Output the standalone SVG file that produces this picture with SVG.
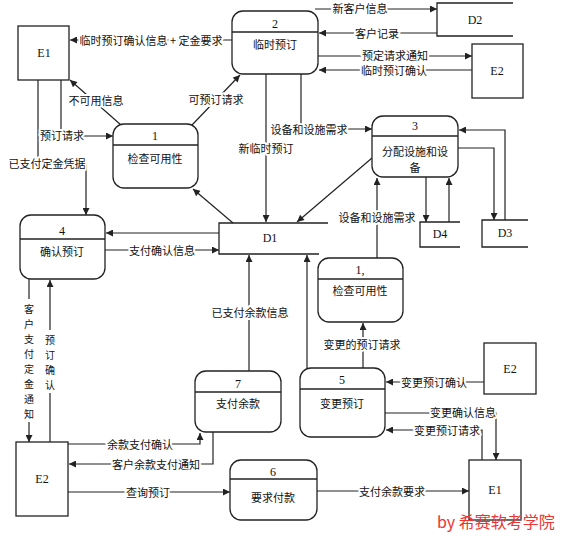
<svg xmlns="http://www.w3.org/2000/svg" width="580" height="536" viewBox="0 0 580 536">
<style>
  .box{fill:#fff;stroke:#222;stroke-width:1.3}
  .ln{fill:none;stroke:#222;stroke-width:1.2}
  .st{fill:none;stroke:#222;stroke-width:1.3}
  .t{font-family:"Noto Sans CJK SC","Noto Sans",sans-serif;font-size:11px;fill:#111;text-anchor:middle;dominant-baseline:central}
  .lb{font-family:"Noto Sans CJK SC","Noto Sans",sans-serif;font-size:11px;fill:#111;text-anchor:middle;dominant-baseline:central;paint-order:stroke;stroke:#fff;stroke-width:4px;stroke-linejoin:round}
  .vt{font-family:"Noto Sans CJK SC","Noto Sans",sans-serif;font-size:10px;fill:#111;text-anchor:middle;dominant-baseline:central}
  .id{font-family:"Liberation Serif",serif;font-size:12px;fill:#111;text-anchor:middle;dominant-baseline:central}
  .wm{font-family:"Noto Sans CJK SC","Noto Sans",sans-serif;font-size:16px;fill:#e33;dominant-baseline:central}
</style>
<defs>
  <marker id="a" viewBox="0 0 10 10" refX="10" refY="5" markerWidth="8" markerHeight="7" markerUnits="userSpaceOnUse" orient="auto">
    <path d="M0,0 L10,5 L0,10 z" fill="#222"/>
  </marker>
</defs>
<rect width="580" height="536" fill="#fff"/>

<g id="connectors">
  <path class="ln" d="M232,40 H70" marker-end="url(#a)"/>
  <path class="ln" d="M315,9 H437" marker-end="url(#a)"/>
  <path class="ln" d="M437,33 H319" marker-end="url(#a)"/>
  <path class="ln" d="M318,56 H472" marker-end="url(#a)"/>
  <path class="ln" d="M472,70 H319" marker-end="url(#a)"/>
  <path class="ln" d="M121,125 L70,80" marker-end="url(#a)"/>
  <path class="ln" d="M192,125 L240,75" marker-end="url(#a)"/>
  <path class="ln" d="M61,80 V136 H113" marker-end="url(#a)"/>
  <path class="ln" d="M38,80 V163 H86 V215" marker-end="url(#a)"/>
  <path class="ln" d="M233,223 L193,189" marker-end="url(#a)"/>
  <path class="ln" d="M266,74 V222" marker-end="url(#a)"/>
  <path class="ln" d="M301,74 V129 H372" marker-end="url(#a)"/>
  <path class="ln" d="M372,158 L297,222" marker-end="url(#a)"/>
  <path class="ln" d="M377,258 V178" marker-end="url(#a)"/>
  <path class="ln" d="M458,148 H494 V220" marker-end="url(#a)"/>
  <path class="ln" d="M505,220 V130 H459" marker-end="url(#a)"/>
  <path class="ln" d="M426,177 V222" marker-end="url(#a)"/>
  <path class="ln" d="M449,222 V178" marker-end="url(#a)"/>
  <path class="ln" d="M219,233 H106" marker-end="url(#a)"/>
  <path class="ln" d="M105,250 H219" marker-end="url(#a)"/>
  <path class="ln" d="M249,371 V255" marker-end="url(#a)"/>
  <path class="ln" d="M307,368 V255" marker-end="url(#a)"/>
  <path class="ln" d="M363,368 V323" marker-end="url(#a)"/>
  <path class="ln" d="M29,279 V299"/>
  <path class="ln" d="M29,422 V442" marker-end="url(#a)"/>
  <path class="ln" d="M50,442 V393"/>
  <path class="ln" d="M50,330 V280" marker-end="url(#a)"/>
  <path class="ln" d="M68,444 H200 V433" marker-end="url(#a)"/>
  <path class="ln" d="M213,432 V464 H69" marker-end="url(#a)"/>
  <path class="ln" d="M68,492 H230" marker-end="url(#a)"/>
  <path class="ln" d="M317,491 H469" marker-end="url(#a)"/>
  <path class="ln" d="M484,382 H386" marker-end="url(#a)"/>
  <path class="ln" d="M385,413 H496 V460" marker-end="url(#a)"/>
  <path class="ln" d="M482,460 V430 H386" marker-end="url(#a)"/>

  <text class="lb" x="151" y="40">临时预订确认信息 + 定金要求</text>
  <text class="lb" x="360" y="8">新客户信息</text>
  <text class="lb" x="377" y="33">客户记录</text>
  <text class="lb" x="395" y="55">预定请求通知</text>
  <text class="lb" x="394" y="70">临时预订确认</text>
  <text class="lb" x="96" y="100">不可用信息</text>
  <text class="lb" x="216" y="99">可预订请求</text>
  <text class="lb" x="62" y="135">预订请求</text>
  <text class="lb" x="47" y="163">已支付定金凭据</text>
  <text class="lb" x="266" y="148">新临时预订</text>
  <text class="lb" x="309" y="129">设备和设施需求</text>
  <text class="lb" x="377" y="217">设备和设施需求</text>
  <text class="lb" x="162" y="250">支付确认信息</text>
  <text class="lb" x="250" y="312">已支付余款信息</text>
  <text class="lb" x="362" y="344">变更的预订请求</text>
  <text class="vt" x="29"><tspan x="29" y="308">客</tspan><tspan x="29" y="323">户</tspan><tspan x="29" y="338">支</tspan><tspan x="29" y="353">付</tspan><tspan x="29" y="368">定</tspan><tspan x="29" y="383">金</tspan><tspan x="29" y="398">通</tspan><tspan x="29" y="413">知</tspan></text>
  <text class="vt" x="50"><tspan x="50" y="339">预</tspan><tspan x="50" y="354">订</tspan><tspan x="50" y="369">确</tspan><tspan x="50" y="384">认</tspan></text>
  <text class="lb" x="140" y="444">余款支付确认</text>
  <text class="lb" x="156" y="464">客户余款支付通知</text>
  <text class="lb" x="148" y="492">查询预订</text>
  <text class="lb" x="392" y="491">支付余款要求</text>
  <text class="lb" x="434" y="382">变更预订确认</text>
  <text class="lb" x="463" y="412">变更确认信息</text>
  <text class="lb" x="447" y="430">变更预订请求</text>
</g>

<g id="E1-top"><rect class="box" x="18" y="26" width="51" height="54"/><text class="id" x="44" y="53">E1</text></g>
<g id="E2-top"><rect class="box" x="472" y="44" width="51" height="54"/><text class="id" x="497" y="71">E2</text></g>
<g id="E2-mid"><rect class="box" x="484" y="343" width="52" height="51"/><text class="id" x="510" y="369">E2</text></g>
<g id="E2-bottom"><rect class="box" x="16" y="442" width="52" height="74"/><text class="id" x="42" y="479">E2</text></g>
<g id="E1-bottom"><rect class="box" x="469" y="460" width="52" height="60"/><text class="id" x="495" y="490">E1</text></g>

<g id="D2"><path class="st" d="M513,3 H437 V36 H513"/><text class="id" x="475" y="20">D2</text></g>
<g id="D1"><path class="st" d="M328,223 H219 V254 H319"/><text class="id" x="270" y="238">D1</text></g>
<g id="D4"><path class="st" d="M460,222 H420 V247 H460"/><text class="id" x="440" y="234">D4</text></g>
<g id="D3"><path class="st" d="M528,220 H482 V247 H528"/><text class="id" x="505" y="233">D3</text></g>

<g id="P1"><rect class="box" x="113" y="124" width="85" height="64" rx="11"/><line class="st" x1="113" y1="145" x2="198" y2="145"/><text class="id" x="155" y="136">1</text><text class="t" x="155" y="158">检查可用性</text></g>
<g id="P2"><rect class="box" x="232" y="11" width="86" height="63" rx="11"/><line class="st" x1="232" y1="32" x2="318" y2="32"/><text class="id" x="275" y="24">2</text><text class="t" x="275" y="44">临时预订</text></g>
<g id="P3"><rect class="box" x="372" y="116" width="86" height="61" rx="11"/><line class="st" x1="372" y1="136" x2="458" y2="136"/><text class="id" x="415" y="126">3</text><text class="t" x="415" y="151">分配设施和设</text><text class="t" x="415" y="167">备</text></g>
<g id="P4"><rect class="box" x="20" y="215" width="85" height="64" rx="11"/><line class="st" x1="20" y1="239" x2="105" y2="239"/><text class="id" x="62" y="231">4</text><text class="t" x="62" y="251">确认预订</text></g>
<g id="P1b"><rect class="box" x="318" y="258" width="85" height="64" rx="11"/><line class="st" x1="318" y1="279" x2="403" y2="279"/><text class="id" x="360" y="270">1,</text><text class="t" x="360" y="290">检查可用性</text></g>
<g id="P5"><rect class="box" x="300" y="368" width="85" height="69" rx="11"/><line class="st" x1="300" y1="389" x2="385" y2="389"/><text class="id" x="342" y="380">5</text><text class="t" x="342" y="403">变更预订</text></g>
<g id="P6"><rect class="box" x="230" y="460" width="87" height="60" rx="11"/><line class="st" x1="230" y1="479" x2="317" y2="479"/><text class="id" x="273" y="472">6</text><text class="t" x="273" y="497">要求付款</text></g>
<g id="P7"><rect class="box" x="195" y="371" width="86" height="61" rx="11"/><line class="st" x1="195" y1="392" x2="281" y2="392"/><text class="id" x="238" y="384">7</text><text class="t" x="238" y="403">支付余款</text></g>

<text class="wm" x="437" y="521">by 希赛软考学院</text>
</svg>
